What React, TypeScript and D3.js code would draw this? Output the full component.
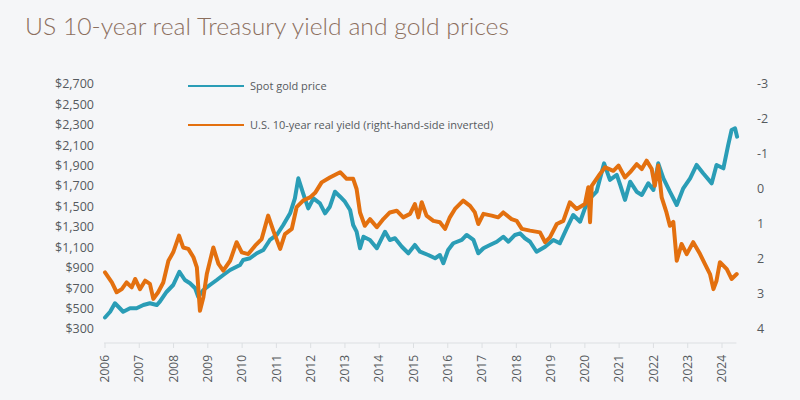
import React from "react";
import * as d3 from "d3";

// Spot gold price (USD/oz)
const goldDates = [2006.0, 2006.15, 2006.29, 2006.39, 2006.53, 2006.73, 2006.92, 2007.12, 2007.31, 2007.51, 2007.6, 2007.8, 2007.99, 2008.17, 2008.33, 2008.48, 2008.63, 2008.72, 2008.87, 2009.06, 2009.26, 2009.45, 2009.65, 2009.94, 2010.03, 2010.23, 2010.43, 2010.62, 2010.81, 2011.01, 2011.2, 2011.4, 2011.54, 2011.64, 2011.78, 2011.93, 2012.08, 2012.27, 2012.42, 2012.56, 2012.71, 2012.86, 2013.0, 2013.15, 2013.24, 2013.34, 2013.44, 2013.54, 2013.73, 2013.93, 2014.17, 2014.31, 2014.46, 2014.66, 2014.85, 2015.04, 2015.19, 2015.43, 2015.63, 2015.77, 2015.87, 2016.01, 2016.16, 2016.41, 2016.55, 2016.75, 2016.89, 2017.04, 2017.23, 2017.43, 2017.62, 2017.77, 2017.96, 2018.11, 2018.25, 2018.4, 2018.59, 2018.84, 2019.08, 2019.27, 2019.47, 2019.66, 2019.86, 2020.0, 2020.15, 2020.34, 2020.56, 2020.73, 2020.93, 2021.03, 2021.17, 2021.32, 2021.51, 2021.66, 2021.85, 2022.0, 2022.14, 2022.29, 2022.48, 2022.68, 2022.87, 2023.07, 2023.26, 2023.45, 2023.7, 2023.84, 2024.04, 2024.18, 2024.28, 2024.38, 2024.44];
const goldPrices = [413, 469, 552, 518, 469, 503, 503, 535, 552, 535, 567, 665, 731, 861, 780, 748, 699, 616, 682, 731, 780, 829, 878, 927, 976, 993, 1042, 1074, 1172, 1221, 1319, 1433, 1580, 1776, 1629, 1482, 1580, 1531, 1433, 1498, 1645, 1596, 1547, 1466, 1319, 1253, 1091, 1204, 1172, 1091, 1253, 1172, 1189, 1106, 1042, 1123, 1057, 1025, 993, 1025, 944, 1074, 1140, 1172, 1221, 1172, 1042, 1091, 1123, 1155, 1204, 1155, 1221, 1237, 1189, 1155, 1057, 1106, 1172, 1140, 1286, 1417, 1351, 1482, 1580, 1645, 1923, 1760, 1809, 1711, 1564, 1743, 1645, 1613, 1727, 1662, 1923, 1776, 1645, 1515, 1678, 1776, 1907, 1825, 1727, 1907, 1874, 2102, 2249, 2266, 2184];

// US 10-year real yield (%), plotted on the inverted right axis
const yieldDates = [2006.0, 2006.2, 2006.34, 2006.49, 2006.63, 2006.78, 2006.88, 2007.02, 2007.17, 2007.31, 2007.41, 2007.55, 2007.7, 2007.85, 2007.99, 2008.16, 2008.28, 2008.43, 2008.58, 2008.68, 2008.77, 2008.87, 2008.97, 2009.16, 2009.31, 2009.45, 2009.65, 2009.84, 2009.99, 2010.18, 2010.38, 2010.57, 2010.76, 2010.91, 2011.11, 2011.25, 2011.45, 2011.59, 2011.78, 2011.98, 2012.13, 2012.32, 2012.56, 2012.86, 2013.05, 2013.24, 2013.34, 2013.44, 2013.58, 2013.73, 2013.93, 2014.12, 2014.31, 2014.51, 2014.7, 2014.9, 2015.04, 2015.14, 2015.24, 2015.38, 2015.58, 2015.77, 2015.92, 2016.06, 2016.21, 2016.45, 2016.65, 2016.79, 2016.89, 2017.04, 2017.28, 2017.47, 2017.62, 2017.86, 2018.01, 2018.16, 2018.4, 2018.69, 2018.84, 2018.98, 2019.18, 2019.37, 2019.56, 2019.76, 2020.0, 2020.1, 2020.15, 2020.2, 2020.44, 2020.59, 2020.83, 2020.98, 2021.17, 2021.32, 2021.51, 2021.66, 2021.8, 2021.95, 2022.04, 2022.14, 2022.24, 2022.38, 2022.48, 2022.58, 2022.68, 2022.82, 2022.97, 2023.16, 2023.36, 2023.5, 2023.65, 2023.75, 2023.84, 2023.94, 2024.14, 2024.28, 2024.43];
const yieldValues = [2.38, 2.67, 2.95, 2.86, 2.67, 2.81, 2.57, 2.86, 2.62, 2.71, 3.14, 2.95, 2.67, 2.05, 1.81, 1.33, 1.67, 1.71, 1.95, 2.24, 3.48, 3.09, 2.43, 1.67, 2.14, 2.33, 2.05, 1.52, 1.81, 1.86, 1.62, 1.43, 0.76, 1.19, 1.71, 1.29, 1.14, 0.52, 0.33, 0.24, 0.11, -0.19, -0.33, -0.48, -0.29, -0.29, 0.0, 0.67, 1.05, 0.86, 1.09, 0.86, 0.67, 0.62, 0.81, 0.71, 0.43, 0.81, 0.38, 0.76, 0.91, 0.95, 1.14, 0.81, 0.57, 0.33, 0.48, 0.67, 1.0, 0.71, 0.76, 0.81, 0.67, 0.86, 0.91, 1.14, 1.19, 1.24, 1.52, 1.38, 1.0, 0.91, 0.38, 0.57, 0.43, -0.05, 0.95, -0.09, -0.43, -0.62, -0.52, -0.67, -0.33, -0.48, -0.71, -0.57, -0.81, -0.57, -0.09, -0.67, 0.24, 0.67, 1.05, 0.94, 2.05, 1.57, 1.86, 1.52, 1.86, 2.14, 2.43, 2.86, 2.62, 2.09, 2.29, 2.57, 2.43];

const yearTicks = d3.range(2006, 2025);
const leftTicks = d3.range(300, 2701, 200);
const rightTicks = d3.range(-3, 5);

const title = "US 10-year real Treasury yield and gold prices";
const legendLabels = ["Spot gold price", "U.S. 10-year real yield (right-hand-side inverted)"];

const GOLD = "#2a9db6";
const ORANGE = "#e3700f";
const TEXT = "#555a5e";

export default function App() {
  const W = 800, H = 400;
  const x = d3.scaleLinear().domain([2006, 2024]).range([105, 722]);
  const yL = d3.scaleLinear().domain([300, 2700]).range([329, 84]);
  const yR = d3.scaleLinear().domain([4, -3]).range([329, 84]);

  const goldLine = d3.line<number>()
    .x((_, i) => x(goldDates[i]))
    .y((d) => yL(d));
  const yieldLine = d3.line<number>()
    .x((_, i) => x(yieldDates[i]))
    .y((d) => yR(d));

  const fmt = d3.format(",");
  const font = "'Open Sans', sans-serif";
  const axisY = 343;
  const xEnd = x(2024.42);

  return (
    <svg width={W} height={H} style={{ position: "absolute", left: 0, top: 0, fontFamily: font }}>
      <rect width={W} height={H} fill="#f5f6f8" />
      <text x={25} y={35} fontSize={24} fontWeight={300} fill="#8c6f5e" fontFamily="Lato, sans-serif" textLength={484} lengthAdjust="spacingAndGlyphs">
        {title}
      </text>

      {/* legend */}
      <line x1={188} x2={244} y1={86} y2={86} stroke={GOLD} strokeWidth={2} />
      <text x={250} y={86} dy="0.35em" fontSize={11} fill={TEXT}>{legendLabels[0]}</text>
      <line x1={188} x2={244} y1={125} y2={125} stroke={ORANGE} strokeWidth={2} />
      <text x={250} y={125} dy="0.35em" fontSize={11} fill={TEXT}>{legendLabels[1]}</text>

      {/* left axis */}
      {leftTicks.map((t) => (
        <text key={t} x={94} y={yL(t)} dy="0.35em" textAnchor="end" fontSize={12.5} fill={TEXT}>
          {"$" + fmt(t)}
        </text>
      ))}
      {/* right axis */}
      {rightTicks.map((t) => (
        <text key={t} x={757} y={yR(t)} dy="0.35em" textAnchor="start" fontSize={12.5} fill={TEXT}>
          {String(t)}
        </text>
      ))}
      {/* x axis */}
      <line x1={x(2006) - 1} x2={xEnd} y1={axisY} y2={axisY} stroke="#dcdfe2" strokeWidth={1} />
      {yearTicks.map((t) => (
        <g key={t} transform={`translate(${x(t)},${axisY})`}>
          <line y1={0} y2={5} stroke="#dcdfe2" />
          <text transform="translate(0,12) rotate(-90)" dy="0.35em" textAnchor="end" fontSize={12} fill={TEXT}>
            {t}
          </text>
        </g>
      ))}

      <path d={goldLine(goldPrices) || ""} fill="none" stroke={GOLD} strokeWidth={4} strokeLinejoin="round" strokeLinecap="round" />
      <path d={yieldLine(yieldValues) || ""} fill="none" stroke={ORANGE} strokeWidth={4} strokeLinejoin="round" strokeLinecap="round" />
    </svg>
  );
}
